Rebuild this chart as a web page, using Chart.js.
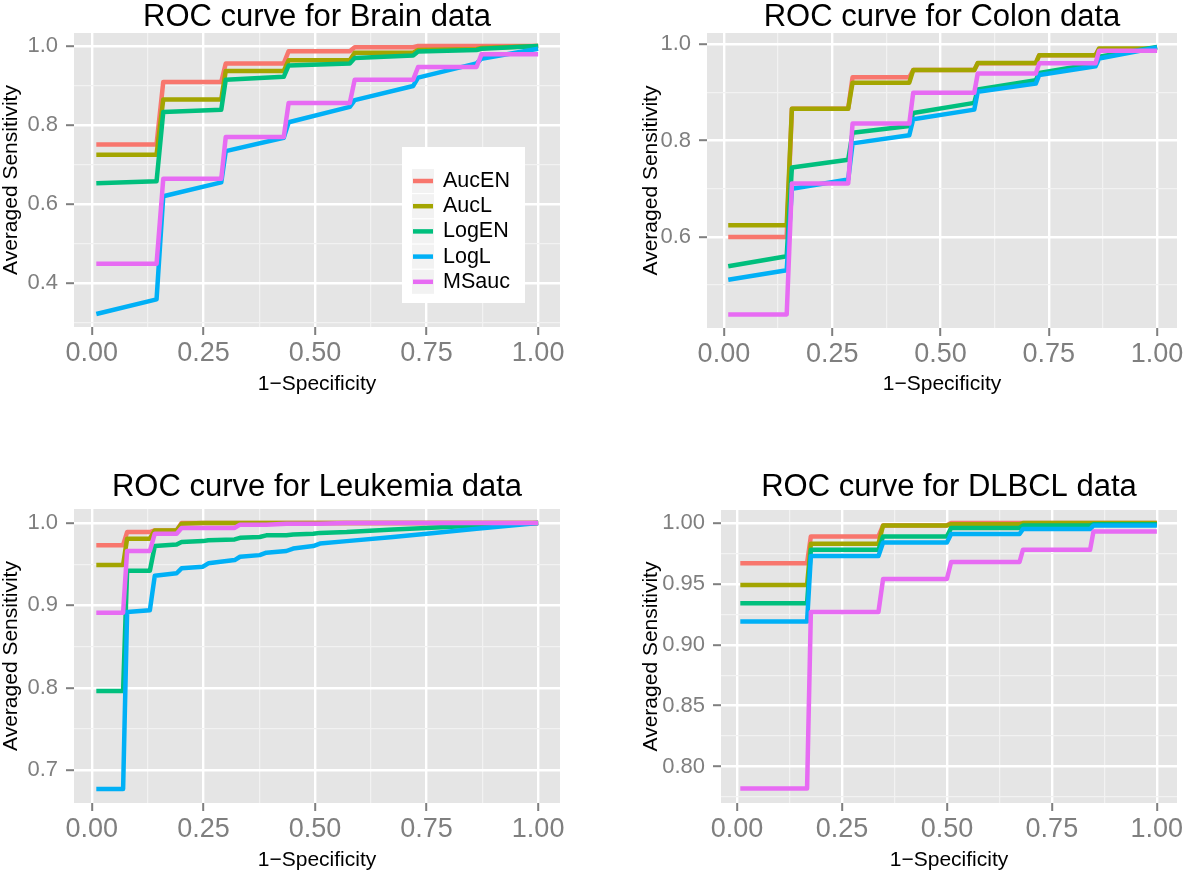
<!DOCTYPE html>
<html>
<head>
<meta charset="utf-8">
<script src="https://cdn.jsdelivr.net/npm/chart.js@4.4.1/dist/chart.umd.min.js"></script>
<style>
  html, body { margin: 0; padding: 0; background: #fff; }
  #wrap { position: relative; width: 1200px; height: 871px; overflow: hidden; }
  canvas { position: absolute; }
</style>
</head>
<body>
<div id="wrap">
  <canvas id="brain" width="600" height="435" style="left:0;top:0"></canvas>
  <canvas id="colon" width="600" height="435" style="left:600px;top:0"></canvas>
  <canvas id="leukemia" width="600" height="436" style="left:0;top:435px"></canvas>
  <canvas id="dlbcl" width="600" height="436" style="left:600px;top:435px"></canvas>
</div>
<script>
Chart.defaults.font.family = '"Liberation Sans", Arial, Helvetica, sans-serif';
Chart.defaults.color = '#7f7f7f';

var seriesNames = ["AucEN", "AucL", "LogEN", "LogL", "MSauc"];
var seriesColors = ["#F8766D", "#A3A500", "#00BF7D", "#00B0F6", "#E76BF3"];

var xTicks = [0, 0.25, 0.5, 0.75, 1];
var xMinor = [0.125, 0.375, 0.625, 0.875];
var xTickLabels = ["0.00", "0.25", "0.50", "0.75", "1.00"];

// Brain
var brainX      = [0.01, 0.145, 0.16, 0.29, 0.30, 0.43, 0.441, 0.578, 0.589, 0.72, 0.731, 0.862, 0.873, 1.0];
var brainAucEN  = [0.751, 0.751, 0.909, 0.909, 0.956, 0.956, 0.987, 0.987, 0.997, 0.997, 1.0, 1.0, 1.0, 1.0];
var brainAucL   = [0.725, 0.725, 0.865, 0.865, 0.937, 0.937, 0.964, 0.964, 0.983, 0.983, 0.990, 0.992, 0.995, 1.0];
var brainLogEN  = [0.653, 0.658, 0.833, 0.839, 0.915, 0.922, 0.951, 0.956, 0.970, 0.976, 0.986, 0.990, 0.993, 1.0];
var brainLogL   = [0.322, 0.359, 0.620, 0.655, 0.734, 0.768, 0.807, 0.846, 0.863, 0.899, 0.920, 0.956, 0.968, 0.993];
var brainMSauc  = [0.449, 0.449, 0.664, 0.664, 0.770, 0.770, 0.856, 0.856, 0.915, 0.915, 0.947, 0.947, 0.979, 0.979];
var brainYTicks = [0.4, 0.6, 0.8, 1.0];
var brainYMinor = [0.3, 0.5, 0.7, 0.9];
var brainYLabels = ["0.4", "0.6", "0.8", "1.0"];

// Colon
var colonX      = [0.01, 0.145, 0.157, 0.287, 0.297, 0.428, 0.437, 0.578, 0.586, 0.72, 0.728, 0.858, 0.866, 1.0];
var colonAucEN  = [0.600, 0.600, 0.866, 0.866, 0.931, 0.931, 0.946, 0.946, 0.960, 0.960, 0.977, 0.977, 0.989, 0.989];
var colonAucL   = [0.624, 0.624, 0.866, 0.866, 0.920, 0.920, 0.946, 0.946, 0.961, 0.961, 0.977, 0.977, 0.991, 0.991];
var colonLogEN  = [0.539, 0.560, 0.744, 0.760, 0.816, 0.830, 0.857, 0.878, 0.906, 0.925, 0.940, 0.960, 0.974, 0.994];
var colonLogL   = [0.511, 0.531, 0.700, 0.719, 0.794, 0.811, 0.844, 0.864, 0.901, 0.918, 0.936, 0.954, 0.970, 0.993];
var colonMSauc  = [0.439, 0.439, 0.711, 0.711, 0.835, 0.835, 0.899, 0.899, 0.939, 0.939, 0.960, 0.960, 0.986, 0.986];
var colonYTicks = [0.6, 0.8, 1.0];
var colonYMinor = [0.5, 0.7, 0.9];
var colonYLabels = ["0.6", "0.8", "1.0"];

// Leukemia
var leukX      = [0.010, 0.070, 0.079, 0.130, 0.141, 0.190, 0.201, 0.249, 0.261, 0.320, 0.332, 0.376, 0.391, 0.436, 0.451, 0.496, 0.511, 0.571, 0.675, 0.750, 0.862, 1.0];
var leukAucEN  = [0.973, 0.973, 0.989, 0.989, 0.991, 0.991, 1.0, 1.0, 1.0, 1.0, 1.0, 1.0, 1.0, 1.0, 1.0, 1.0, 1.0, 1.0, 1.0, 1.0, 1.0, 1.0];
var leukAucL   = [0.949, 0.949, 0.981, 0.981, 0.991, 0.991, 0.999, 1.0, 1.0, 1.0, 1.0, 1.0, 1.0, 1.0, 1.0, 1.0, 1.0, 1.0, 1.0, 1.0, 1.0, 1.0];
var leukLogEN  = [0.796, 0.796, 0.942, 0.942, 0.972, 0.974, 0.977, 0.978, 0.979, 0.980, 0.982, 0.983, 0.985, 0.985, 0.986, 0.987, 0.988, 0.989, 0.992, 0.994, 0.997, 1.0];
var leukLogL   = [0.677, 0.677, 0.892, 0.894, 0.936, 0.939, 0.945, 0.947, 0.951, 0.955, 0.959, 0.961, 0.964, 0.966, 0.969, 0.972, 0.975, 0.978, 0.983, 0.987, 0.993, 1.0];
var leukMSauc  = [0.891, 0.891, 0.966, 0.966, 0.987, 0.987, 0.994, 0.994, 0.994, 0.994, 0.998, 0.998, 0.998, 0.999, 0.999, 0.999, 0.999, 1.0, 1.0, 1.0, 1.0, 1.0];
var leukYTicks = [0.7, 0.8, 0.9, 1.0];
var leukYMinor = [0.75, 0.85, 0.95];
var leukYLabels = ["0.7", "0.8", "0.9", "1.0"];

// DLBCL
var dlbclX      = [0.008, 0.167, 0.176, 0.337, 0.348, 0.500, 0.510, 0.673, 0.681, 0.841, 0.849, 1.0];
var dlbclAucEN  = [0.967, 0.967, 0.989, 0.989, 0.998, 0.998, 1.0, 1.0, 1.0, 1.0, 1.0, 1.0];
var dlbclAucL   = [0.949, 0.949, 0.983, 0.983, 0.998, 0.998, 0.999, 0.999, 1.0, 1.0, 1.0, 1.0];
var dlbclLogEN  = [0.934, 0.934, 0.978, 0.978, 0.989, 0.989, 0.996, 0.996, 0.998, 0.998, 0.999, 0.999];
var dlbclLogL   = [0.919, 0.919, 0.973, 0.973, 0.984, 0.984, 0.991, 0.991, 0.995, 0.995, 0.998, 0.998];
var dlbclMSauc  = [0.782, 0.782, 0.927, 0.927, 0.954, 0.954, 0.968, 0.968, 0.978, 0.978, 0.993, 0.993];
var dlbclYTicks = [0.80, 0.85, 0.90, 0.95, 1.00];
var dlbclYMinor = [0.775, 0.825, 0.875, 0.925, 0.975];
var dlbclYLabels = ["0.80", "0.85", "0.90", "0.95", "1.00"];

// grey panel behind the plot, like ggplot
var panelBg = {
  id: 'panelBg',
  beforeDraw: function (chart) {
    var a = chart.chartArea, c = chart.ctx;
    c.save();
    c.fillStyle = '#E5E5E5';
    c.fillRect(a.left, a.top, a.right - a.left, a.bottom - a.top);
    c.restore();
  }
};

// legend box drawn inside the Brain panel
var insideLegend = {
  id: 'insideLegend',
  afterDraw: function (chart) {
    var a = chart.chartArea, c = chart.ctx;
    var bx = a.left + 328, by = a.top + 114;
    c.save();
    c.fillStyle = '#fff';
    c.fillRect(bx, by, 123, 156);
    chart.data.datasets.forEach(function (ds, i) {
      var cy = by + 34 + i * 25.2;
      c.fillStyle = '#F2F2F2';
      c.fillRect(bx + 10, cy - 12, 22, 24);
      c.strokeStyle = ds.borderColor;
      c.lineWidth = 4.5;
      c.beginPath();
      c.moveTo(bx + 11, cy);
      c.lineTo(bx + 31, cy);
      c.stroke();
      c.fillStyle = '#000';
      c.font = '21.5px "Liberation Sans", Arial, sans-serif';
      c.textBaseline = 'middle';
      c.textAlign = 'left';
      c.fillText(ds.label, bx + 41, cy);
    });
    c.restore();
  }
};

function buildTicks(major, minor) {
  return major.map(function (v) { return { value: v }; })
    .concat(minor.map(function (v) { return { value: v, minor: true }; }))
    .sort(function (p, q) { return p.value - q.value; });
}

var gridStyle = {
  color: function (c) { return c.tick && c.tick.minor ? '#F2F2F2' : '#FFFFFF'; },
  lineWidth: function (c) { return c.tick && c.tick.minor ? 1.2 : 2.4; },
  tickColor: function (c) { return c.tick && c.tick.minor ? 'rgba(0,0,0,0)' : '#7f7f7f'; },
  tickWidth: 2,
  tickLength: 8
};

function makePanel(id, title, xs, series, yTicks, yMinor, yLabels, lay, withLegend) {
  var datasets = seriesNames.map(function (name, i) {
    return {
      label: name,
      data: xs.map(function (x, k) { return { x: x, y: series[i][k] }; }),
      borderColor: seriesColors[i],
      backgroundColor: seriesColors[i],
      borderWidth: 4.5,
      pointRadius: 0,
      showLine: true,
      tension: 0,
      borderJoinStyle: 'round',
      order: seriesNames.length - 1 - i
    };
  });
  return new Chart(document.getElementById(id), {
    type: 'scatter',
    data: { datasets: datasets },
    plugins: withLegend ? [panelBg, insideLegend] : [panelBg],
    options: {
      responsive: false,
      animation: false,
      layout: { padding: { left: 0, top: 0, right: lay.padRight, bottom: lay.padBottom } },
      plugins: {
        legend: { display: false },
        tooltip: { enabled: false },
        title: {
          display: true,
          text: title,
          fullSize: false,
          color: '#000',
          font: { size: 31, weight: 'normal', lineHeight: 1 },
          padding: { top: lay.titleTop, bottom: lay.titleBottom }
        }
      },
      scales: {
        x: {
          type: 'linear',
          min: lay.xMin,
          max: lay.xMax,
          border: { display: false },
          grid: gridStyle,
          afterBuildTicks: function (s) { s.ticks = buildTicks(xTicks, xMinor); },
          afterFit: function (s) { s.height = lay.xHeight; },
          ticks: {
            autoSkip: false,
            maxRotation: 0,
            padding: 2,
            color: '#7f7f7f',
            font: { size: 27 },
            callback: function (v) { var i = xTicks.indexOf(v); return i < 0 ? '' : xTickLabels[i]; }
          },
          title: {
            display: true,
            text: '1\u2212Specificity',
            color: '#000',
            font: { size: 21, lineHeight: 1 },
            padding: { top: 0, bottom: 0 }
          }
        },
        y: {
          type: 'linear',
          min: lay.yMin,
          max: lay.yMax,
          border: { display: false },
          grid: gridStyle,
          afterBuildTicks: function (s) { s.ticks = buildTicks(yTicks, yMinor); },
          afterFit: function (s) { s.width = lay.yWidth; },
          ticks: {
            autoSkip: false,
            padding: 8,
            color: '#7f7f7f',
            font: { size: 22 },
            callback: function (v) { var i = yTicks.indexOf(v); return i < 0 ? '' : yLabels[i]; }
          },
          title: {
            display: true,
            text: 'Averaged Sensitivity',
            color: '#000',
            font: { size: 21, lineHeight: 1 },
            padding: { top: lay.yTitlePad, bottom: 0 }
          }
        }
      }
    }
  });
}

makePanel('brain', 'ROC curve for Brain data', brainX,
  [brainAucEN, brainAucL, brainLogEN, brainLogL, brainMSauc],
  brainYTicks, brainYMinor, brainYLabels,
  { padRight: 40, padBottom: 40.5, titleTop: 1.5, titleBottom: 0.5, xHeight: 67.5, yWidth: 74, yTitlePad: 0.5,
    xMin: -0.040, xMax: 1.049, yMin: 0.289, yMax: 1.033 }, true);

makePanel('colon', 'ROC curve for Colon data', colonX,
  [colonAucEN, colonAucL, colonLogEN, colonLogL, colonMSauc],
  colonYTicks, colonYMinor, colonYLabels,
  { padRight: 23, padBottom: 40.5, titleTop: 1.5, titleBottom: 0.5, xHeight: 66.5, yWidth: 107, yTitlePad: 40.5,
    xMin: -0.039, xMax: 1.046, yMin: 0.411, yMax: 1.023 }, false);

makePanel('leukemia', 'ROC curve for Leukemia data', leukX,
  [leukAucEN, leukAucL, leukLogEN, leukLogL, leukMSauc],
  leukYTicks, leukYMinor, leukYLabels,
  { padRight: 40, padBottom: 0.5, titleTop: 36.5, titleBottom: 6.5, xHeight: 67.5, yWidth: 74, yTitlePad: 0.5,
    xMin: -0.040, xMax: 1.049, yMin: 0.660, yMax: 1.017 }, false);

makePanel('dlbcl', 'ROC curve for DLBCL data', dlbclX,
  [dlbclAucEN, dlbclAucL, dlbclLogEN, dlbclLogL, dlbclMSauc],
  dlbclYTicks, dlbclYMinor, dlbclYLabels,
  { padRight: 23, padBottom: 0.5, titleTop: 36.5, titleBottom: 7.5, xHeight: 67.5, yWidth: 121, yTitlePad: 40.5,
    xMin: -0.038, xMax: 1.048, yMin: 0.770, yMax: 1.0107 }, false);
</script>
</body>
</html>
